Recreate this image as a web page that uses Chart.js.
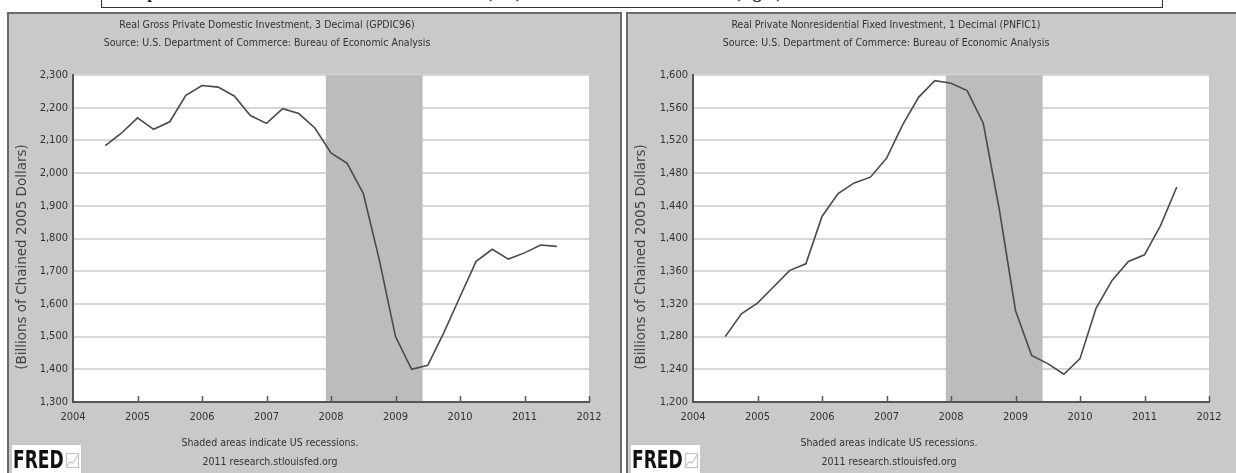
<!DOCTYPE html>
<html>
<head>
<meta charset="utf-8">
<script src="https://cdn.jsdelivr.net/npm/chart.js@4"></script>
<style>
  html, body { margin: 0; padding: 0; background: #fff; }
  body { width: 1236px; height: 473px; position: relative; overflow: hidden; }
  .topbox {
    position: absolute; left: 101px; top: -22px; width: 1060px; height: 28px;
    border: 1px solid #333; background: #fff; overflow: hidden;
    font: bold 17px "Liberation Serif", serif; color: #222;
    line-height: 28px; white-space: nowrap;
  }
  .topbox span { position: absolute; top: 0; }
  .panel {
    position: absolute; top: 12px; height: 461px; background: #c9c9c9;
    box-shadow: inset 2px 2px 0 #6a6a6a, inset -2px 0 0 #6a6a6a;
  }
  #p1 { left: 7px; width: 615px; }
  #p2 { left: 626px; width: 610px; box-shadow: inset 2px 2px 0 #6a6a6a; }
  .panel canvas { position: absolute; left: 0; top: 0; }
</style>
</head>
<body>
<div class="topbox">
  <span style="left: 16px;">Graph 2: Real Gross Private Domestic Investment (left)</span>
  <span style="left: 405px;">and Nonresidential Investment (right)</span>
</div>
<div class="panel" id="p1"><canvas id="c1"></canvas></div>
<div class="panel" id="p2"><canvas id="c2"></canvas></div>
<script>
// quarterly observations, plotted at quarter start (decimal years)
const quarters = [
  2004.5, 2004.75,
  2005, 2005.25, 2005.5, 2005.75,
  2006, 2006.25, 2006.5, 2006.75,
  2007, 2007.25, 2007.5, 2007.75,
  2008, 2008.25, 2008.5, 2008.75,
  2009, 2009.25, 2009.5, 2009.75,
  2010, 2010.25, 2010.5, 2010.75,
  2011, 2011.25, 2011.5
];

// GPDIC96, billions of chained 2005 dollars
const gpdi = [
  2084, 2122,
  2169, 2134, 2157, 2238,
  2268, 2263, 2236, 2176,
  2152, 2197, 2182, 2138,
  2062, 2030, 1938, 1734,
  1500, 1400, 1412, 1512,
  1622, 1730, 1767, 1737,
  1756, 1780, 1776
];

// PNFIC1, billions of chained 2005 dollars
const pnfi = [
  1280, 1308,
  1321, 1341, 1361, 1369,
  1427, 1455, 1468, 1475,
  1498, 1539, 1573, 1593,
  1590, 1581, 1541, 1435,
  1312, 1257, 1247, 1234,
  1253, 1315, 1349, 1372,
  1380, 1416, 1463
];

const yearTicks = [2004, 2005, 2006, 2007, 2008, 2009, 2010, 2011, 2012];
const recession = [2007.92, 2009.42];

const gpdiTitle = ['Real Gross Private Domestic Investment, 3 Decimal (GPDIC96)',
                   'Source: U.S. Department of Commerce: Bureau of Economic Analysis'];
const pnfiTitle = ['Real Private Nonresidential Fixed Investment, 1 Decimal (PNFIC1)',
                   'Source: U.S. Department of Commerce: Bureau of Economic Analysis'];
const footer = ['Shaded areas indicate US recessions.', '2011 research.stlouisfed.org'];
const yTitle = '(Billions of Chained 2005 Dollars)';

Chart.defaults.font.family = '"DejaVu Sans Condensed", "DejaVu Sans", sans-serif';
Chart.defaults.font.size = 11;
Chart.defaults.color = '#333';

// FRED style extras: white plot area, recession band, inner year ticks, texts, logo
const fredDecor = {
    id: 'fredDecor',
    beforeDraw(chart) {
        const { ctx, chartArea: a } = chart;
        ctx.save();
        ctx.fillStyle = '#fff';
        ctx.fillRect(a.left, a.top, a.right - a.left, a.bottom - a.top);
        ctx.restore();
    },
    beforeDatasetsDraw(chart) {
        const { ctx, chartArea: a, scales: { x } } = chart;
        const x0 = x.getPixelForValue(recession[0]);
        const x1 = x.getPixelForValue(recession[1]);
        ctx.save();
        ctx.fillStyle = '#bcbcbc';
        ctx.fillRect(x0, a.top, x1 - x0, a.bottom - a.top - 1);
        ctx.restore();
    },
    afterDraw(chart, args, opts) {
        const { ctx, chartArea: a, scales: { x } } = chart;
        ctx.save();
        // year ticks pointing up into the plot
        ctx.strokeStyle = '#555';
        ctx.lineWidth = 1.5;
        yearTicks.slice(1).forEach(t => {
            const px = Math.round(x.getPixelForValue(t)) + 0.5;
            ctx.beginPath();
            ctx.moveTo(px, a.bottom);
            ctx.lineTo(px, a.bottom - 6);
            ctx.stroke();
        });

        ctx.fillStyle = '#333';
        ctx.textAlign = 'center';
        ctx.textBaseline = 'middle';
        ctx.font = '10.5px "DejaVu Sans Condensed", "DejaVu Sans", sans-serif';
        ctx.fillText(opts.title[0], opts.cx, 13);
        ctx.fillText(opts.title[1], opts.cx, 31);
        ctx.fillText(footer[0], opts.cx + 3, 431);
        ctx.fillText(footer[1], opts.cx + 3, 450);

        // rotated unit label
        ctx.save();
        ctx.translate(15, 245);
        ctx.rotate(-Math.PI / 2);
        ctx.font = '13.5px "DejaVu Sans", sans-serif';
        ctx.fillStyle = '#444';
        ctx.fillText(yTitle, 0, 0);
        ctx.restore();

        // FRED logo
        ctx.fillStyle = '#fff';
        ctx.fillRect(5, 433, 69, 30);
        ctx.save();
        ctx.translate(6, 456);
        ctx.scale(0.76, 1);
        ctx.fillStyle = '#111';
        ctx.textAlign = 'left';
        ctx.textBaseline = 'alphabetic';
        ctx.font = 'bold 25px "DejaVu Sans Condensed", "DejaVu Sans", sans-serif';
        ctx.fillText('FRED', 0, 0);
        ctx.restore();
        ctx.strokeStyle = '#c4c4c4';
        ctx.lineWidth = 1.2;
        ctx.strokeRect(59.5, 441.5, 12, 14);
        ctx.beginPath();
        ctx.moveTo(60, 454); ctx.lineTo(63, 450); ctx.lineTo(66, 451); ctx.lineTo(71, 443);
        ctx.stroke();
        ctx.restore();
    }
};

function makeChart(canvasId, values, yMin, yMax, step, pad, title) {
    return new Chart(document.getElementById(canvasId), {
        type: 'line',
        data: {
            datasets: [{
                data: quarters.map((q, i) => ({ x: q, y: values[i] })),
                borderColor: '#4a4a4a',
                borderWidth: 1.6,
                pointRadius: 0,
                tension: 0
            }]
        },
        options: {
            responsive: true, maintainAspectRatio: false, animation: false,
            layout: { padding: { left: 0, right: pad.right, top: 63, bottom: 0 } },
            plugins: {
                legend: { display: false },
                tooltip: { enabled: false },
                fredDecor: { title: title, cx: 260 }
            },
            scales: {
                x: {
                    type: 'linear', min: yearTicks[0], max: yearTicks[yearTicks.length - 1],
                    afterBuildTicks: s => { s.ticks = yearTicks.map(v => ({ value: v })); },
                    ticks: { callback: v => String(v), padding: 9, maxRotation: 0, color: '#333' },
                    grid: { display: false, drawTicks: false },
                    border: { color: '#555', width: 2 },
                    afterFit: s => { s.height = 71; }
                },
                y: {
                    min: yMin, max: yMax,
                    ticks: { stepSize: step, padding: 5, color: '#333',
                             callback: v => Number(v).toLocaleString('en-US') },
                    grid: { color: '#d6d6d6', lineWidth: 2, drawTicks: false },
                    border: { color: '#555', width: 2 },
                    afterFit: s => { s.width = pad.left; }
                }
            }
        },
        plugins: [fredDecor]
    });
}

makeChart('c1', gpdi, 1300, 2300, 100, { left: 66, right: 33 }, gpdiTitle);
makeChart('c2', pnfi, 1200, 1600, 40, { left: 67, right: 27 }, pnfiTitle);
</script>
</body>
</html>
